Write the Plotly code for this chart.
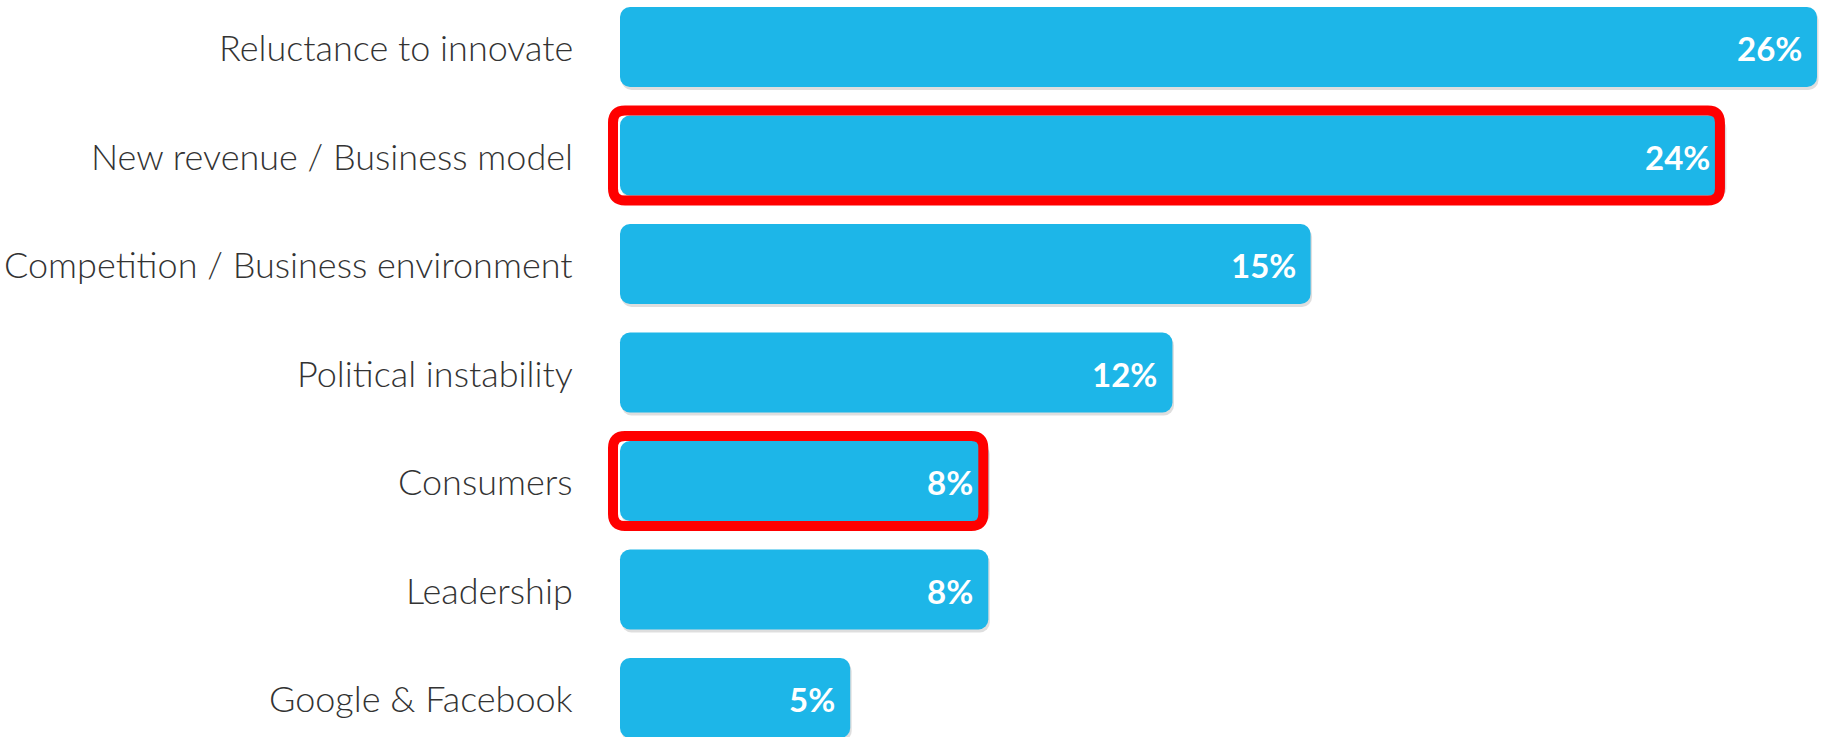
import plotly.graph_objects as go

# Survey answers, top to bottom
categories = [
    "Reluctance to innovate",
    "New revenue / Business model",
    "Competition / Business environment",
    "Political instability",
    "Consumers",
    "Leadership",
    "Google & Facebook",
]
values = [26, 24, 15, 12, 8, 8, 5]
highlighted = ["New revenue / Business model", "Consumers"]

BAR_COLOR = "#1db6e8"
W, H = 1825, 737
BAR_LEFT = 620                   # pixel where the bars start
MARGIN_L = 590                   # plot area starts a bit earlier so outlines fit
PX_PER_UNIT = 1197 / 26          # horizontal pixels per percentage point
ROW_PX = 108.5                   # vertical pixels per category row
X_MIN = -(BAR_LEFT - MARGIN_L) / PX_PER_UNIT
X_MAX = (W - BAR_LEFT) / PX_PER_UNIT
Y_TOP = -47 / ROW_PX
Y_BOTTOM = (H - 47) / ROW_PX
BAR_WIDTH = 80 / ROW_PX

idx = list(range(len(categories)))


def add_rounded_bars(fig, color, dx=0.0, dy=0.0, hover=True):
    # an explicit base makes the bar "floating", so both ends get rounded
    fig.add_trace(go.Bar(
        x=values, y=idx, orientation="h",
        base=[dx] * len(values),
        width=BAR_WIDTH, offset=-BAR_WIDTH / 2 + dy,
        marker=dict(color=color, line=dict(width=0), cornerradius=10),
        hovertemplate="%{x}%<extra></extra>" if hover else None,
        hoverinfo=None if hover else "skip",
        showlegend=False,
    ))


fig = go.Figure()

# soft drop shadow under each bar, then the bars themselves
add_rounded_bars(fig, "rgba(0,0,0,0.13)", dx=1.5 / PX_PER_UNIT, dy=3 / ROW_PX, hover=False)
add_rounded_bars(fig, BAR_COLOR)

annotations = []
for i, (cat, v) in enumerate(zip(categories, values)):
    # percentage label at the right end of the bar
    annotations.append(dict(
        x=v, y=i, xref="x", yref="y", text=f"<b>{v}%</b>",
        xanchor="right", yanchor="middle", xshift=-13, yshift=-1, showarrow=False,
        font=dict(family="Lato", size=33, color="white"),
    ))
    # category name left of the bars
    annotations.append(dict(
        x=0, y=i, xref="x", yref="y", text=cat,
        xanchor="right", yanchor="middle", xshift=-45, showarrow=False,
        font=dict(family="Lato", size=36, color="#333333", weight=300),
    ))


def rounded_rect(x0, x1, y0, y1, r_px):
    rx = r_px / PX_PER_UNIT
    ry = r_px / ROW_PX
    return (
        f"M {x0 + rx},{y0} L {x1 - rx},{y0} Q {x1},{y0} {x1},{y0 + ry} "
        f"L {x1},{y1 - ry} Q {x1},{y1} {x1 - rx},{y1} "
        f"L {x0 + rx},{y1} Q {x0},{y1} {x0},{y1 - ry} "
        f"L {x0},{y0 + ry} Q {x0},{y0} {x0 + rx},{y0} Z"
    )


shapes = []
for cat in highlighted:
    i = categories.index(cat)
    v = values[i]
    pad_x = 7 / PX_PER_UNIT
    pad_y = 45 / ROW_PX
    shapes.append(dict(
        type="path", xref="x", yref="y", layer="above",
        path=rounded_rect(-pad_x, v - 5 / PX_PER_UNIT, i - pad_y, i + pad_y, 12),
        line=dict(color="#ff0000", width=10),
        fillcolor="rgba(0,0,0,0)",
    ))

fig.update_layout(
    width=W, height=H,
    margin=dict(l=MARGIN_L, r=0, t=0, b=0),
    paper_bgcolor="white", plot_bgcolor="white",
    barmode="overlay",
    annotations=annotations,
    shapes=shapes,
    xaxis=dict(range=[X_MIN, X_MAX], visible=False, fixedrange=True),
    yaxis=dict(range=[Y_BOTTOM, Y_TOP], visible=False, fixedrange=True),
)

fig.write_html("out.html")
